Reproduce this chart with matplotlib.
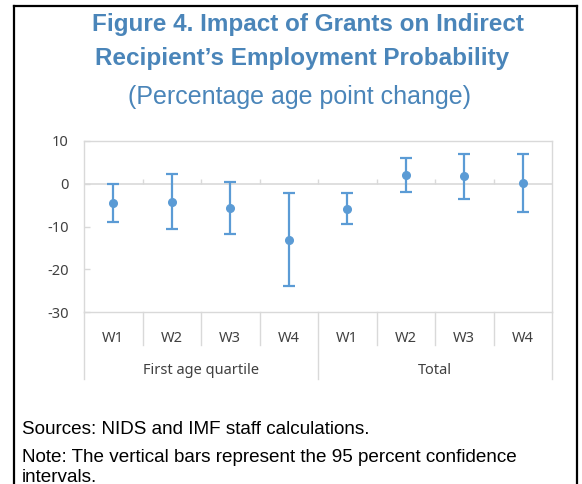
import numpy as np
import matplotlib.pyplot as plt
from matplotlib.transforms import blended_transform_factory
from matplotlib.lines import Line2D

waves = ['W1', 'W2', 'W3', 'W4', 'W1', 'W2', 'W3', 'W4']
groups = ['First age quartile', 'Total']
est = [-4.5, -4.3, -5.7, -13.1, -5.8, 2.1, 1.8, 0.1]
upper = [0.0, 2.2, 0.4, -2.1, -2.2, 6.1, 7.0, 6.9]
lower = [-9.0, -10.7, -11.7, -23.9, -9.4, -2.0, -3.5, -6.6]
yticks = [10, 0, -10, -20, -30]

blue = '#5B9BD5'
titleblue = '#4A85B9'
gridc = '#D9D9D9'
textc = '#404040'
fs_tick = 10.5

fig = plt.figure(figsize=(5.82, 4.84), dpi=100)
W, H = 582, 484
ax = fig.add_axes([84 / W, 1 - 312 / H, (552 - 84) / W, (312 - 141) / H])

x = np.arange(len(est))
est = np.array(est)
yerr = [est - np.array(lower), np.array(upper) - est]
ax.errorbar(x, est, yerr=yerr, fmt='o', color=blue, ecolor=blue,
            markersize=5.5, elinewidth=1.6, capsize=4, capthick=1.6, zorder=3)

ax.set_xlim(-0.5, 7.5)
ax.set_ylim(-30, 10)
ax.set_yticks(yticks)
ax.set_yticklabels([str(t) for t in yticks], fontsize=fs_tick, color=textc, family='Noto Sans')
ax.tick_params(axis='y', direction='in', length=4, width=1, color=gridc, pad=11)
ax.set_xticks([])
for s in ax.spines.values():
    s.set_color(gridc)
    s.set_linewidth(1)
ax.axhline(0, color=gridc, lw=1.2, zorder=1)

# small ticks on zero line
seps = np.arange(0.5, 7.5, 1.0)
ax.vlines(seps, 0, 1.2, color=gridc, lw=1, zorder=1)

# category axis below plot
tr = blended_transform_factory(ax.transData, ax.transAxes)
for s in seps:
    bottom = -0.39 if s == 3.5 else -0.195
    ax.plot([s, s], [0, bottom], color=gridc, lw=1, transform=tr, clip_on=False)
for s in [-0.5, 7.5]:
    ax.plot([s, s], [0, -0.39], color=gridc, lw=1, transform=tr, clip_on=False)
for i, w in enumerate(waves):
    ax.text(i, -0.155, w, transform=tr, ha='center', va='center',
            fontsize=fs_tick, color=textc, family='Noto Sans')
ax.text(1.5, -0.345, groups[0], transform=tr, ha='center', va='center',
        fontsize=fs_tick, color=textc, family='Noto Sans')
ax.text(5.5, -0.345, groups[1], transform=tr, ha='center', va='center',
        fontsize=fs_tick, color=textc, family='Noto Sans')

# titles
fig.text(308 / W, 1 - 24 / H, 'Figure 4. Impact of Grants on Indirect', ha='center', va='center',
         fontsize=17.5, fontweight='bold', color=titleblue, family='Liberation Sans')
fig.text(302 / W, 1 - 59 / H, 'Recipient\u2019s Employment Probability', ha='center', va='center',
         fontsize=17.5, fontweight='bold', color=titleblue, family='Liberation Sans')
fig.text(300 / W, 1 - 97 / H, '(Percentage age point change)', ha='center', va='center',
         fontsize=18, color=titleblue, family='Liberation Sans')

# notes
fig.text(22 / W, 1 - 430 / H, 'Sources: NIDS and IMF staff calculations.', ha='left', va='center',
         fontsize=13.6, color='black', family='Liberation Sans')
fig.text(22 / W, 1 - 458 / H, 'Note: The vertical bars represent the 95 percent confidence', ha='left',
         va='center', fontsize=13.6, color='black', family='Liberation Sans')
fig.text(22 / W, 1 - 477 / H, 'intervals.', ha='left', va='center',
         fontsize=13.6, color='black', family='Liberation Sans')

# frame
fig.add_artist(Line2D([14 / W, 14 / W], [0, 1 - 6 / H], color='black', lw=1.6, transform=fig.transFigure))
fig.add_artist(Line2D([14 / W, 577 / W], [1 - 6 / H, 1 - 6 / H], color='black', lw=1.6, transform=fig.transFigure))
fig.add_artist(Line2D([577 / W, 577 / W], [0, 1 - 6 / H], color='black', lw=1.6, transform=fig.transFigure))

fig.savefig('out.png', dpi=100)
